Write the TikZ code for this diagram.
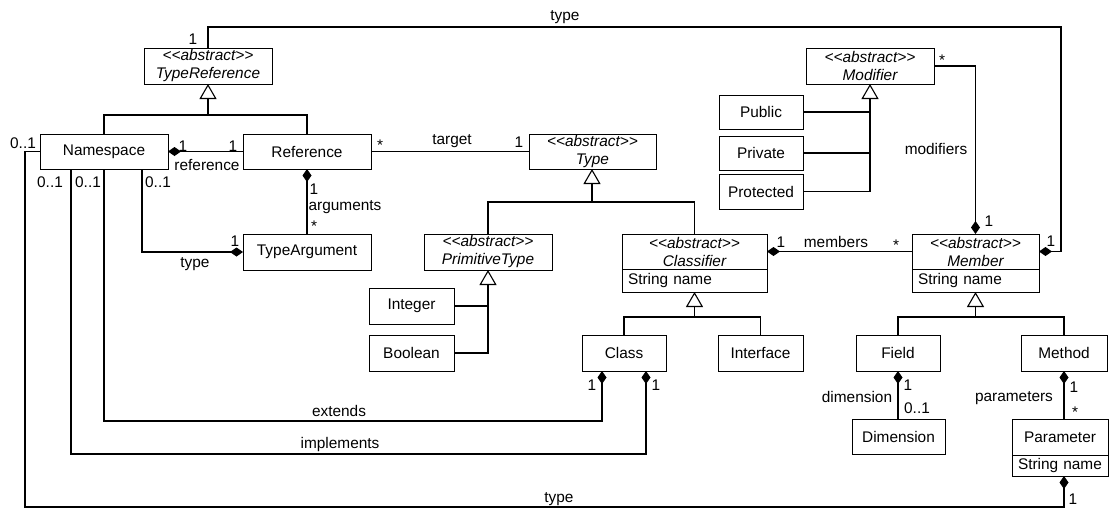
\documentclass[tikz,border=0pt]{standalone}
\usepackage{fontspec}
\setmainfont{Liberation Sans}
\usetikzlibrary{arrows.meta,calc}
\newcommand\dfont{\fontsize{15.4}{18}\selectfont}
% stereotype text; the kerns keep << and >> from turning into guillemets
\newcommand\abst{<\kern0pt<abstract>\kern0pt>}

\begin{document}
\begin{tikzpicture}[x=1pt,y=-1pt,
  box/.style={draw, line width=1pt, inner sep=0pt, outer sep=0pt, fill=white,
              font=\dfont, align=center},
  absbox/.style={box, font=\dfont\itshape},
  attrbox/.style={draw, line width=1pt, inner xsep=6pt, inner ysep=0pt, outer sep=0pt,
              fill=white, font=\dfont, align=left},
  lbl/.style={inner sep=0pt, text height=11pt, text depth=0pt, font=\dfont},
  conn/.style={line width=1.1pt},
  gen/.style={conn, -{Triangle[open, length=15pt, width=17pt]}},
  compS/.style={conn, {Diamond[length=13pt, width=9pt]}-},
  compE/.style={conn, -{Diamond[length=13pt, width=9pt]}}]

\useasboundingbox (0,0) rectangle (1111,509);

% ---- classes ----
\node[absbox, minimum width=128pt, minimum height=36pt] (tr) at (208,66) {\abst\\TypeReference};
\node[box, minimum width=128pt, minimum height=35pt] (ns) at (104,151.5) {Namespace};
\node[box, minimum width=128pt, minimum height=35pt] (ref) at (307,151.5) {Reference};
\node[box, minimum width=128pt, minimum height=36pt] (targ) at (307,252) {TypeArgument};
\node[absbox, minimum width=127pt, minimum height=35pt] (type) at (592.5,151.5) {\abst\\Type};
\node[absbox, minimum width=128pt, minimum height=36pt] (pt) at (488,252) {\abst\\PrimitiveType};
\node[box, minimum width=85pt, minimum height=36pt] (int) at (411.5,306) {Integer};
\node[box, minimum width=85pt, minimum height=36pt] (bool) at (411.5,353) {Boolean};

\node[absbox, minimum width=145pt, minimum height=35pt] (cls) at (694.5,251.5) {\abst\\Classifier};
\node[attrbox, text width=133pt, minimum height=23pt] (clsa) at (694.5,280.5) {String name};
\node[box, minimum width=84pt, minimum height=36pt] (class) at (624,353) {Class};
\node[box, minimum width=85pt, minimum height=36pt] (iface) at (760.5,353) {Interface};

\node[absbox, minimum width=128pt, minimum height=36pt] (mod) at (870,66) {\abst\\Modifier};
\node[box, minimum width=84pt, minimum height=34pt] (pub) at (761,112) {Public};
\node[box, minimum width=84pt, minimum height=34pt] (priv) at (761,153) {Private};
\node[box, minimum width=84pt, minimum height=35pt] (prot) at (761,191.5) {Protected};

\node[absbox, minimum width=127pt, minimum height=35pt] (mem) at (975.5,251.5) {\abst\\Member};
\node[attrbox, text width=115pt, minimum height=23pt] (mema) at (975.5,280.5) {String name};
\node[box, minimum width=84pt, minimum height=36pt] (field) at (898,353) {Field};
\node[box, minimum width=86pt, minimum height=36pt] (method) at (1064,353) {Method};
\node[box, minimum width=93pt, minimum height=35pt] (dim) at (898.5,436.5) {Dimension};
\node[box, minimum width=96pt, minimum height=36pt] (par) at (1060,437) {Parameter};
\node[attrbox, text width=84pt, minimum height=21pt] (para) at (1060,465.5) {String name};

% ---- generalizations ----
\coordinate (trbar) at (208,115);
\draw[conn] (ns.north) |- (trbar) -| (ref.north);
\draw[gen] (trbar) -- (tr.south);

\coordinate (tybar) at (592,202);
\draw[conn] (pt.north) |- (tybar) -| (cls.north);
\draw[gen] (tybar) -- (tybar |- type.south);

\draw[gen] (bool.east) -| (pt.south);
\draw[conn] (int.east) -- (int.east -| pt.south);

\coordinate (clbar) at (694.5,317);
\draw[conn] (class.north) |- (clbar) -| (iface.north);
\draw[gen] (clbar) -- (clsa.south);

\coordinate (mebar) at (975.5,317);
\draw[conn] (field.north) |- (mebar) -| (method.north);
\draw[gen] (mebar) -- (mema.south);

\draw[gen] (prot.east) -| (mod.south);
\draw[conn] (pub.east) -- (pub.east -| mod.south);
\draw[conn] (priv.east) -- (priv.east -| mod.south);

% ---- associations ----
\draw[compS] (ns.east) -- (ref.west);
\draw[conn] (ref.east) -- (type.west);
\draw[compS] (ref.south) -- (targ.north);
\draw[compE] ($(ns.south east)+(-26,0)$) |- (targ.west);
\draw[compS] (cls.east) -- (mem.west);
\draw[compE] (mod.east) -| (mem.north);
\draw[compS] (field.south) -- (field.south |- dim.north);
\draw[compS] (method.south) -- (method.south |- par.north);

\coordinate (toptype) at (1061,27);
\draw[compE] (tr.north) |- (toptype) |- (mem.east);

\coordinate (ext) at (602,421);
\draw[compE] (ns.south) |- (ext) -- (ext |- class.south);

\coordinate (imp) at (646,454);
\draw[compE] ($(ns.south west)+(31,0)$) |- (imp) -- (imp |- class.south);

\coordinate (bot) at (25,507);
\draw[compE] (ns.west) -| (bot) -| (method.south |- para.south);

% ---- labels ----
\node[lbl] (l1) at (193,39) {1};
\node[lbl] (l2) at (565,15) {type};
\node[lbl] (l3) at (1051,241) {1};
\node[lbl] (l4) at (23,143) {0..1};
\node[lbl] (l5) at (183,146) {1};
\node[lbl] (l6) at (233,146) {1};
\node[lbl] (l7) at (207,165) {reference};
\node[lbl] (l8) at (380,145) {*};
\node[lbl] (l9) at (452,139) {target};
\node[lbl] (l10) at (519,142) {1};
\node[lbl] (l11) at (314,189) {1};
\node[lbl] (l12) at (345,205) {arguments};
\node[lbl] (l13) at (314,226) {*};
\node[lbl] (l14) at (50,182) {0..1};
\node[lbl] (l15) at (88,182) {0..1};
\node[lbl] (l16) at (158,182) {0..1};
\node[lbl] (l17) at (235,241) {1};
\node[lbl] (l18) at (195,262) {type};
\node[lbl] (l19) at (592,385) {1};
\node[lbl] (l20) at (656,385) {1};
\node[lbl] (l21) at (339,411) {extends};
\node[lbl] (l22) at (340,443) {implements};
\node[lbl] (l23) at (559,497) {type};
\node[lbl] (l24) at (1073,499) {1};
\node[lbl] (l25) at (942,60) {*};
\node[lbl] (l26) at (936,149) {modifiers};
\node[lbl] (l27) at (989,221) {1};
\node[lbl] (l28) at (781,242) {1};
\node[lbl] (l29) at (836,242) {members};
\node[lbl] (l30) at (896,245) {*};
\node[lbl] (l31) at (908,385) {1};
\node[lbl] (l32) at (917,408) {0..1};
\node[lbl] (l33) at (857,397) {dimension};
\node[lbl] (l34) at (1074,387) {1};
\node[lbl] (l35) at (1075,412) {*};
\node[lbl] (l36) at (1014,396) {parameters};
\end{tikzpicture}
\end{document}
